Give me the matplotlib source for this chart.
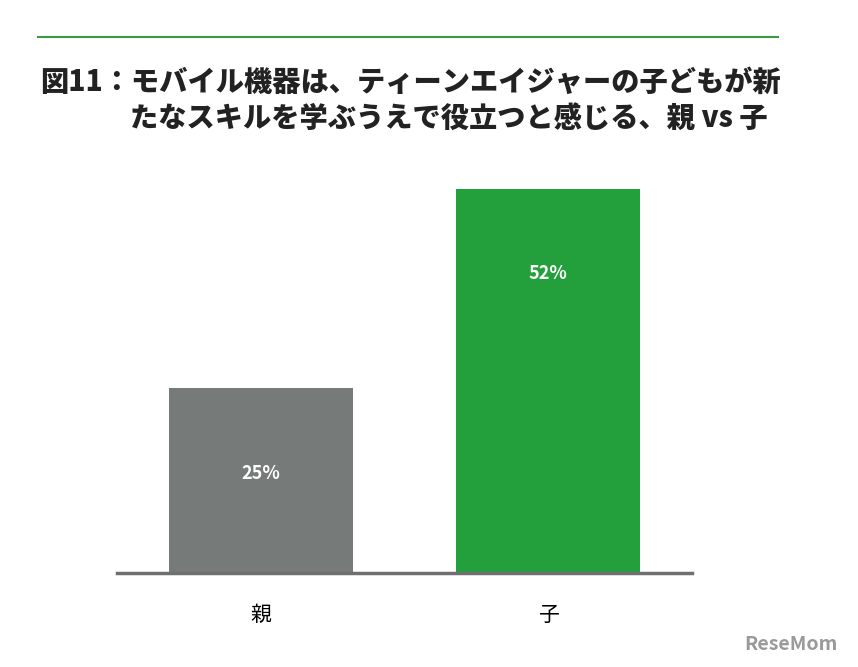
import matplotlib.pyplot as plt
from matplotlib.lines import Line2D

plt.rcParams['font.family'] = ['Noto Sans CJK JP', 'DejaVu Sans']

categories = ['親', '子']
values = [25, 52]
colors = ['#767a78', '#23a03c']

W, H = 858, 667
fig = plt.figure(figsize=(W / 100, H / 100), dpi=100)

# axes placed in pixel coords: left 117, right 692, bottom 573, top 189
ax = fig.add_axes([117 / W, 1 - 573 / H, (692 - 117) / W, (573 - 189) / H])
ax.bar(range(len(values)), values, width=0.64, color=colors)
ax.set_xlim(-0.5, 1.5)
ax.set_ylim(0, 52)
for i, v in enumerate(values):
    ax.text(i, v - 11.5, f'{v}%', ha='center', va='center', color='white',
            fontsize=13, fontweight='bold')
for s in ['top', 'right', 'left']:
    ax.spines[s].set_visible(False)
ax.spines['bottom'].set_color('#6f6f6f')
ax.spines['bottom'].set_linewidth(2.5)
ax.set_yticks([])
ax.set_xticks(range(len(categories)))
ax.set_xticklabels(categories, fontsize=15)
ax.tick_params(axis='x', length=0, pad=22)
ax.patch.set_visible(False)

# top green rule
fig.add_artist(Line2D([38 / W, 778 / W], [1 - 37 / H, 1 - 37 / H], color='#3a9a46', lw=1.5))

fig.text(40 / W, 1 - 82 / H, '図11：モバイル機器は、ティーンエイジャーの子どもが新',
         fontsize=20.3, fontweight='heavy', va='center', color='#222222')
fig.text(130 / W, 1 - 118 / H, 'たなスキルを学ぶうえで役立つと感じる、親 vs 子',
         fontsize=20.3, fontweight='heavy', va='center', color='#222222')

fig.text(838 / W, 1 - 645 / H, 'ReseMom', fontsize=14, fontweight='bold',
         ha='right', va='center', color='#9a9a9a')

fig.savefig('out.png', dpi=100)
